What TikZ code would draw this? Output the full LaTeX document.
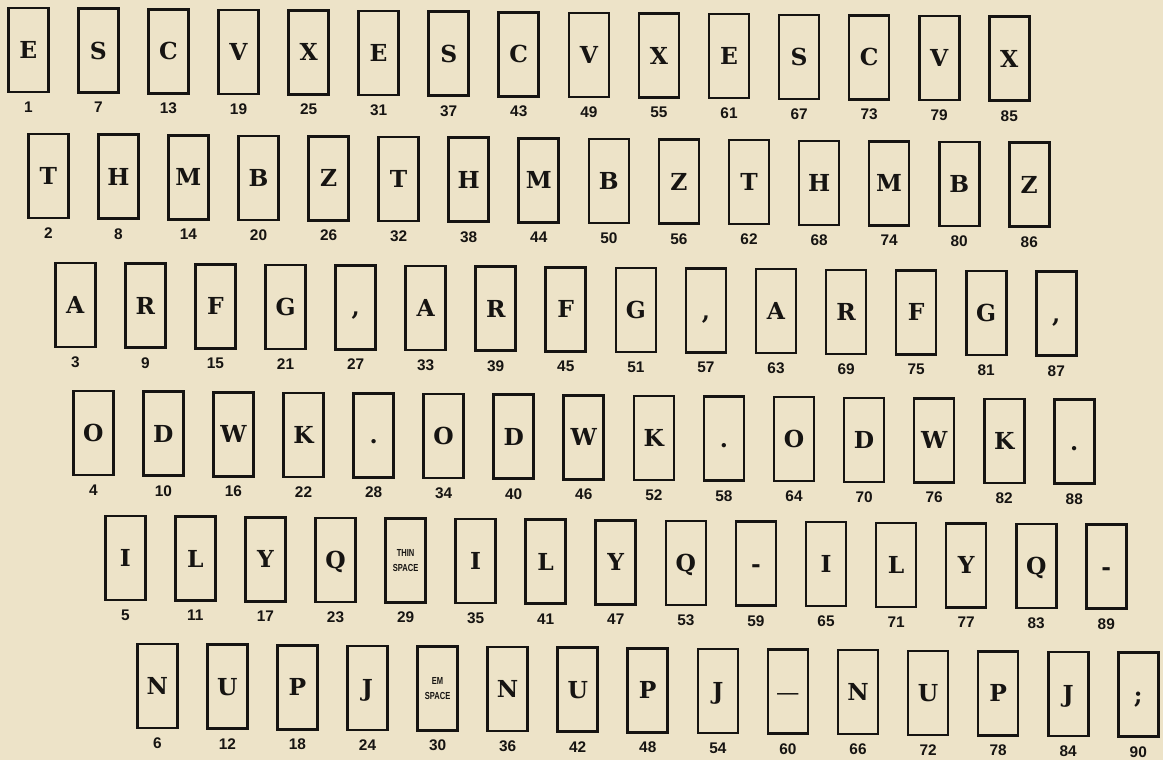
\documentclass[tikz,border=0pt]{standalone}
\usepackage{fontspec}
\setmainfont{DejaVu Serif}
\newfontfamily\numfont{Liberation Sans}
\usetikzlibrary{positioning}
\definecolor{paper}{HTML}{EDE3C8}
\definecolor{ink}{HTML}{161412}
\newcommand{\spacelabel}[1]{\raisebox{-1.2pt}[8.5pt][0pt]{\numfont\bfseries\fontsize{5.1pt}{7.3pt}\selectfont
  \begin{tabular}[b]{@{}c@{}}\scalebox{0.74}[1]{#1}\\\scalebox{0.74}[1]{SPACE}\end{tabular}}}

\begin{document}
\begin{tikzpicture}[
    x=0.5pt, y=0.5pt,
    keybox/.style={
      draw=ink,
      line width=1.3pt,
      fill=paper,
      minimum width=20pt,
      minimum height=42pt,
      inner sep=0pt,
      text height=8.5pt,
      text depth=0pt,
      text=ink,
      font=\fontsize{11.7pt}{14pt}\selectfont\bfseries
    },
    keynum/.style={
      inner sep=0pt,
      text=ink,
      font=\numfont\fontsize{7.7pt}{9pt}\selectfont\bfseries
    }
  ]
    \fill[paper] (0,0) rectangle (1163,760);
    % row / centre of first box / top of first box / keys
    \foreach \r/\xoff/\ytop/\keys in {
        1/28.3/7/{E,S,C,V,X,E,S,C,V,X,E,S,C,V,X},
        2/48.3/133/{T,H,M,B,Z,T,H,M,B,Z,T,H,M,B,Z},
        3/75.3/262/{A,R,F,G,{,},A,R,F,G,{,},A,R,F,G,{,}},
        4/93.3/390/{O,D,W,K,{.},O,D,W,K,{.},O,D,W,K,{.}},
        5/125.3/515/{I,L,Y,Q,{\spacelabel{THIN}},I,L,Y,Q,-,I,L,Y,Q,-},
        6/157.3/643/{N,U,P,J,{\spacelabel{EM}},N,U,P,J,{\mdseries—},N,U,P,J,;}}
    {
      \foreach \k [count=\c from 0] in \keys {
        \pgfmathtruncatemacro{\n}{6*\c+\r}
        \pgfmathsetmacro{\cx}{\xoff+70.07*\c}
        \pgfmathsetmacro{\cy}{717-\ytop-0.62*\c}
        \node[keybox] (k\n) at (\cx,\cy) {\k};
        \node[keynum, below=4pt of k\n] (n\n) {\n};
      }
    }
  \end{tikzpicture}
\end{document}
